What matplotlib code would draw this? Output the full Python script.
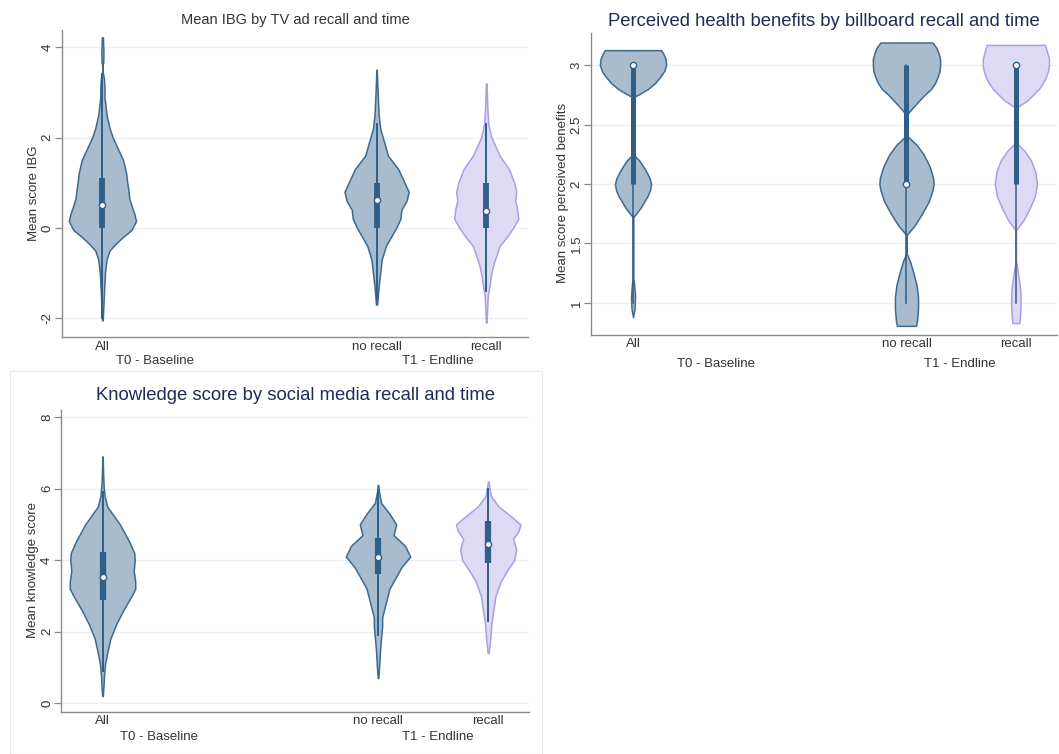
import numpy as np
import matplotlib.pyplot as plt
from matplotlib.patches import Rectangle

plt.rcParams['font.family'] = ['Liberation Sans', 'DejaVu Sans']

# categories and positions on the x axis
cats = ['All', 'no recall', 'recall']
pos = [1, 3.5, 4.5]
groups = ['T0 - Baseline', 'T1 - Endline']

# --- panel 1: Mean IBG by TV ad recall (violin outlines: y value, half width) ---
ibg_all_y = [-2.05, -1.7, -1.3, -1.0, -0.7, -0.5, -0.35, -0.2, -0.05, 0.15, 0.3, 0.5, 0.65, 0.85,
             1.0, 1.2, 1.5, 1.8, 2.0, 2.2, 2.5, 2.7, 2.9, 3.1, 3.3, 3.43, 3.45, 3.62, 3.65, 3.9, 4.22]
ibg_all_d = [0.3, 1, 1.8, 2.5, 4, 7, 13, 20, 28, 32.5, 31, 28, 26, 25,
             24, 23, 20, 14, 10, 7, 4, 3, 2, 2, 1.5, 0.5, 0, 0, 0.8, 1, 0.5]
ibg_norec_y = [-1.7, -1.3, -1.0, -0.7, -0.4, -0.2, 0.0, 0.2, 0.4, 0.6, 0.8, 1.0, 1.3, 1.6, 2.0, 2.2, 2.5, 3.0, 3.5]
ibg_norec_d = [0.5, 2, 3.5, 5, 9, 14, 19, 23, 24, 29, 31, 27, 21, 11, 6, 3.5, 2, 1, 0.2]
ibg_rec_y = [-2.1, -1.5, -1.3, -1.0, -0.8, -0.6, -0.4, -0.2, 0.0, 0.2, 0.4, 0.6, 0.8, 1.0, 1.3, 1.6, 2.0, 2.3, 2.7, 3.2]
ibg_rec_d = [0.3, 1.5, 3, 5, 7, 10, 13, 20, 26, 31, 30, 28, 29, 27, 22, 13, 5, 2, 1, 0.3]
# box stats: whisker low, q1, median, q3, whisker high
ibg_box = [[-2.0, 0.0, 0.5, 1.1, 3.4],
           [-1.6, 0.0, 0.62, 1.0, 2.3],
           [-1.4, 0.0, 0.37, 1.0, 2.3]]

# --- panel 2: Perceived health benefits by billboard recall ---
phb_all_y = [0.88, 0.95, 1.05, 1.15, 1.22, 1.72, 1.75, 1.8, 1.85, 1.9, 1.95, 2.0, 2.05, 2.1, 2.15, 2.2, 2.25,
             2.73, 2.75, 2.8, 2.85, 2.9, 2.95, 3.0, 3.05, 3.1, 3.126]
phb_all_d = [0, 1.5, 2, 1.2, 0, 0, 3, 7.5, 11, 14.5, 17, 18, 16.5, 13.5, 10, 6, 0,
             0, 5, 15, 22, 27, 31, 33, 32.5, 30, 28]
phb_norec_y = [0.807, 0.85, 0.95, 1.05, 1.15, 1.25, 1.35, 1.42, 1.57, 1.65, 1.75, 1.85, 1.95, 2.0, 2.05,
               2.15, 2.25, 2.33, 2.41, 2.58, 2.65, 2.7, 2.75, 2.8, 2.85, 2.9, 2.95, 3.0, 3.05, 3.1, 3.15, 3.19]
phb_norec_d = [9.5, 10.5, 11.5, 11.5, 10, 7, 3.5, 0, 0, 8, 15.5, 22, 26, 27, 26.5,
               23, 17, 10, 0, 0, 7, 12.5, 18, 24.5, 28.5, 31, 33, 33.5, 33.5, 32, 29.5, 26]
phb_rec_y = [0.83, 0.9, 1.0, 1.1, 1.2, 1.3, 1.36, 1.61, 1.7, 1.8, 1.9, 2.0, 2.1, 2.2, 2.28, 2.35,
             2.64, 2.7, 2.75, 2.8, 2.85, 2.9, 2.95, 3.0, 3.05, 3.1, 3.17]
phb_rec_d = [3.5, 4.2, 4.7, 4.5, 3, 1.2, 0, 0, 8, 14, 19, 21, 19.5, 15, 8.5, 0,
             0, 11, 17, 23, 27, 30, 32, 33, 33, 31.5, 29]
phb_box = [[1.0, 2.0, 3.0, 3.0, 3.0],
           [1.0, 2.0, 2.0, 3.0, 3.0],
           [1.0, 2.0, 3.0, 3.0, 3.0]]

# --- panel 3: Knowledge score by social media recall ---
ks_all_y = [0.2, 0.5, 0.8, 1.1, 1.4, 1.8, 2.2, 2.6, 3.0, 3.2, 3.4, 3.7, 4.0, 4.2, 4.5, 5.0, 5.5, 5.8, 6.1, 6.5, 6.9]
ks_all_d = [0.3, 1, 1.5, 2.5, 4.5, 7.5, 13, 20, 28, 31.5, 31.5, 30, 31, 30.5, 26, 16.7, 4.5, 2, 1, 0.5, 0.2]
ks_norec_y = [0.7, 1.0, 1.5, 2.0, 2.15, 2.4, 2.8, 3.2, 3.5, 3.8, 4.1, 4.4, 4.7, 5.0, 5.3, 5.6, 5.9, 6.1]
ks_norec_d = [0.3, 1, 2, 3.5, 4, 4, 7.5, 11, 16.7, 22.5, 31, 26, 15, 17.5, 11, 3, 1, 0.3]
ks_rec_y = [1.4, 1.8, 2.2, 2.6, 3.0, 3.4, 3.7, 4.0, 4.3, 4.6, 4.8, 5.0, 5.2, 5.5, 5.8, 6.2]
ks_rec_d = [0.5, 2, 3, 5, 7, 12, 18, 25, 27, 24, 29, 31, 23, 10, 2.5, 0.3]
ks_box = [[0.9, 2.88, 3.53, 4.23, 5.9],
          [1.9, 3.6, 4.09, 4.63, 5.9],
          [2.3, 3.93, 4.45, 5.09, 6.0]]

BLUE_F, BLUE_E = '#a9bccd', '#3e6a90'
LAV_F, LAV_E = '#dedaf3', '#aa9fe3'
BOX = '#2f5f87'
GRID = '#e7f0f2'
SPINE = '#8a8a8a'
TXT = '#333333'
FS = 9.5


def violin(ax, x, ys, ds, sc, fc, ec):
    ys = np.array(ys)
    w = np.array(ds) * sc
    ax.fill_betweenx(ys, x - w, x + w, facecolor=fc, edgecolor=ec, lw=1.1, zorder=2)


def boxplot(ax, x, st, blw, wlw):
    lo, q1, med, q3, hi = st
    ax.plot([x, x], [lo, hi], color=BOX, lw=wlw, zorder=3)
    ax.plot([x, x], [q1, q3], color=BOX, lw=blw, solid_capstyle='butt', zorder=4)
    ax.plot(x, med, 'o', ms=4.5, mfc='white', mec=BOX, mew=1, zorder=5)


def setup(ax, xlim, ylim, yticks, yticklabels, ylabel, title, tcol, tsize, toff, gx, goff):
    ax.set_xlim(*xlim)
    ax.set_ylim(*ylim)
    ax.set_yticks(yticks)
    ax.set_yticklabels(yticklabels, rotation=90, va='center')
    ax.set_xticks(pos)
    ax.set_xticklabels(cats)
    ax.tick_params(axis='x', length=0, pad=2.5, labelsize=FS, labelcolor=TXT)
    ax.tick_params(axis='y', length=5, width=0.9, color=SPINE, pad=1, labelsize=FS, labelcolor=TXT)
    for s in ['top', 'right']:
        ax.spines[s].set_visible(False)
    for s in ['left', 'bottom']:
        ax.spines[s].set_color(SPINE)
        ax.spines[s].set_linewidth(1.0)
    ax.yaxis.grid(True, color=GRID, lw=0.9)
    ax.set_axisbelow(True)
    ax.set_ylabel(ylabel, fontsize=FS, color=TXT)
    ax.yaxis.set_label_coords(-0.048, 0.47)
    ax.annotate(title, xy=(0.5, 1), xycoords='axes fraction', xytext=(0, toff),
                textcoords='offset points', ha='center', va='center', fontsize=tsize, color=tcol)
    for g, x in zip(groups, gx):
        ax.annotate(g, xy=(x, 0), xycoords=('data', 'axes fraction'), xytext=(0, goff),
                    textcoords='offset points', ha='center', va='center', fontsize=FS, color=TXT)


fig = plt.figure(figsize=(10.59, 7.54), dpi=100)
fig.patches.append(Rectangle((10 / 1059, 0), 532 / 1059, 383 / 754, transform=fig.transFigure,
                             fill=False, ec='#e8e8e8', lw=0.8))

ax1 = fig.add_axes([0.0585, 0.553, 0.440, 0.407])
ax2 = fig.add_axes([0.558, 0.5557, 0.440, 0.4005])
ax3 = fig.add_axes([0.058, 0.0557, 0.4415, 0.4005])

# panel 1
sc = 1 / 106
violin(ax1, pos[0], ibg_all_y, ibg_all_d, sc, BLUE_F, BLUE_E)
violin(ax1, pos[1], ibg_norec_y, ibg_norec_d, sc, BLUE_F, BLUE_E)
violin(ax1, pos[2], ibg_rec_y, ibg_rec_d, sc, LAV_F, LAV_E)
for x, st in zip(pos, ibg_box):
    boxplot(ax1, x, st, 4.2, 1.4)
setup(ax1, (0.631, 4.88), (-2.42, 4.38), [-2, 0, 2, 4], ['-2', '0', '2', '4'], 'Mean score IBG',
      'Mean IBG by TV ad recall and time', TXT, 10.5, 7.2, [1.48, 4.06], -17.3)

# panel 2
sc = 1 / 109
violin(ax2, pos[0], phb_all_y, phb_all_d, sc, BLUE_F, BLUE_E)
violin(ax2, pos[1], phb_norec_y, phb_norec_d, sc, BLUE_F, BLUE_E)
violin(ax2, pos[2], phb_rec_y, phb_rec_d, sc, LAV_F, LAV_E)
for x, st in zip(pos, phb_box):
    boxplot(ax2, x, st, 3.6, 1.1)
setup(ax2, (0.615, 4.875), (0.73, 3.27), [1, 1.5, 2, 2.5, 3], ['1', '1.5', '2', '2.5', '3'],
      'Mean score perceived benefits', 'Perceived health benefits by billboard recall and time',
      '#1f2c5a', 13.3, 8.1, [1.76, 3.99], -20.9)

# panel 3
sc = 1 / 106
violin(ax3, pos[0], ks_all_y, ks_all_d, sc, BLUE_F, BLUE_E)
violin(ax3, pos[1], ks_norec_y, ks_norec_d, sc, BLUE_F, BLUE_E)
violin(ax3, pos[2], ks_rec_y, ks_rec_d, sc, LAV_F, LAV_E)
for x, st in zip(pos, ks_box):
    boxplot(ax3, x, st, 4.5, 1.4)
setup(ax3, (0.627, 4.87), (-0.25, 8.2), [0, 2, 4, 6, 8], ['0', '2', '4', '6', '8'], 'Mean knowledge score',
      'Knowledge score by social media recall and time', '#1f2c5a', 13.3, 10.8, [1.51, 4.04], -18.0)

fig.savefig('out.png', dpi=100)
